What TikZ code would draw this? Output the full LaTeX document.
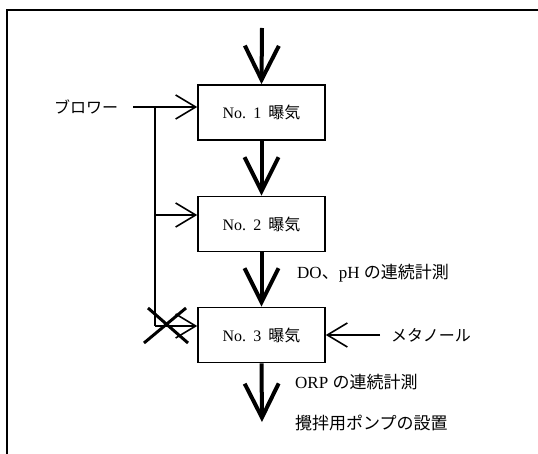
\documentclass[tikz,border=0pt]{standalone}
\usepackage{fontspec}
\setmainfont{Liberation Serif}
\newfontfamily\jp{Noto Sans CJK JP}
\usetikzlibrary{arrows.meta}
\begin{document}
\begin{tikzpicture}[x=1pt,y=-1pt,
  every node/.style={font=\fontsize{16}{18}\selectfont},
  procbox/.style={draw,line width=1.6pt,minimum width=127pt,minimum height=55pt,inner sep=0pt},
  mainflow/.style={line width=4pt,-{Straight Barb[length=34pt,width=34pt,line width=4pt]}},
  feed/.style={line width=1.6pt,-{Straight Barb[length=20pt,width=24pt,line width=1.6pt]}},
  label/.style={anchor=west,inner sep=0pt,font=\fontsize{17}{19}\selectfont}]
\useasboundingbox (0,0) rectangle (538,454);
\draw[line width=2pt] (7,454) -- (7,10) -- (538,10);

\node[procbox] (b1) at (261.5,112.5) {No.\hspace{0.45em}1\hspace{0.45em}{\jp 曝気}};
\node[procbox] (b2) at (261.5,224) {No.\hspace{0.45em}2\hspace{0.45em}{\jp 曝気}};
\node[procbox] (b3) at (261.5,335) {No.\hspace{0.45em}3\hspace{0.45em}{\jp 曝気}};

\coordinate (in) at (262,28);
\coordinate (out) at (262,422);
\draw[mainflow] (in) -- (b1.north);
\draw[mainflow] (b1.south) -- (b2.north);
\draw[mainflow] (b2.south) -- (b3.north);
\draw[mainflow] (b3.south) -- (out);

\node[inner sep=0pt] (blower) at (86,107) {\jp ブロワー};
\coordinate (bstart) at (133,107);
\coordinate (jA) at (155,107);
\coordinate (jB) at (155,326);
\draw[feed] (bstart) -- (b1.west |- bstart);
\draw[line width=1.6pt] (jA) -- (jB);
\draw[feed] (155,215) -- (b2.west |- 0,215);
\draw[feed] (jB) -- (b3.west |- jB);

\draw[line width=3pt] (144,343) -- (186,308);
\draw[line width=3pt] (148,308) -- (188,343);

\node[inner sep=0pt] (meth) at (431,335) {\jp メタノール};
\coordinate (mstart) at (380,335);
\draw[feed] (mstart) -- (b3.east);

\node[label] (t1) at (297,273) {DO{\jp 、}pH {\jp の連続計測}};
\node[label] (t2) at (295,382) {ORP {\jp の連続計測}};
\node[label] (t3) at (295,423) {\jp 攪拌用ポンプの設置};
\end{tikzpicture}
\end{document}
